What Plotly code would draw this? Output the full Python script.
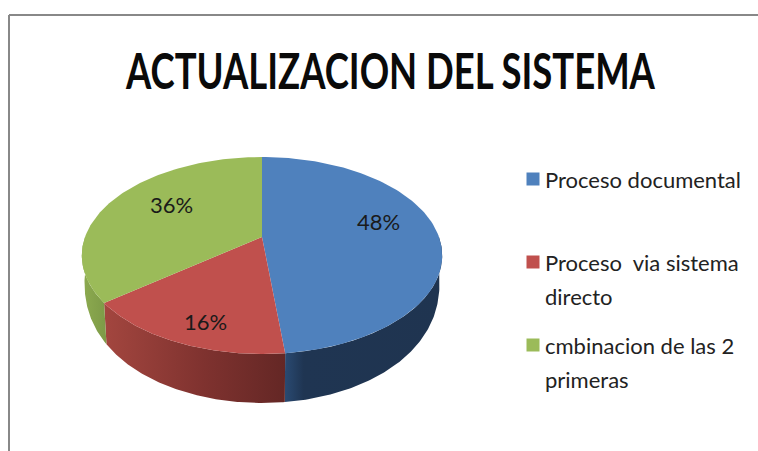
import numpy as np
import plotly.graph_objects as go

title = "ACTUALIZACION DEL SISTEMA"
categories = ["Proceso documental", "Proceso\u00a0 via sistema<br>directo", "cmbinacion de las 2<br>primeras"]
values = [48.4, 16.2, 35.6]
top_colors = ["#4f81bd", "#c0504d", "#9bbb59"]
wall_colors = [
    [[0, "#2a4a72"], [0.12, "#1f3552"], [1, "#1f3450"]],
    [[0, "#a3463f"], [0.55, "#7f322f"], [1, "#642725"]],
    [[0, "#8dab50"], [1, "#7d9a47"]],
]

# canvas is laid out in page pixels, disc drawn in a small perspective
CX, CY = 262, 237
A, B, K = 177, 95, 0.188
DEPTH = 49
label_pos = [(378, 221), (205, 321), (171, 204)]
legend_x = 533
legend_y = [179, 262, 345]
line_gap = 34.5
TITLE_WIDTH = 530


def project(theta, depth=0.0, shrink=1.0):
    u, v = np.sin(theta), np.cos(theta)
    d = 1 + K * v
    # wall height fades towards the sides of the disc
    drop = depth * np.clip(-v, 0, 1) ** 0.35
    return CX + shrink * A * u / d, CY - B * v / d + drop


fig = go.Figure()

edges = np.cumsum([0] + values) / sum(values) * 2 * np.pi
spans = [(edges[i], edges[i + 1]) for i in range(len(values))]

# side walls first, the top face covers whatever is at the back
for (a0, a1), scale in zip(spans, wall_colors):
    # only the front half of the rim shows
    a0v, a1v = max(a0, np.pi * 0.5), min(a1, np.pi * 1.5)
    t = np.linspace(a0v, a1v, 120)
    x1, y1 = project(t)
    x2, y2 = project(t[::-1], DEPTH, 0.985)
    xs = np.concatenate([x1, x2, x1[:1]])
    ys = np.concatenate([y1, y2, y1[:1]])
    fig.add_trace(go.Scatter(
        x=xs, y=ys, mode="lines", line=dict(width=0), fill="toself",
        fillgradient=dict(type="horizontal", colorscale=scale,
                          start=float(xs.min()), stop=float(xs.max())),
        hoverinfo="skip", showlegend=False,
    ))

for (a0, a1), color, name in zip(spans, top_colors, categories):
    t = np.linspace(a0, a1, 120)
    x, y = project(t)
    fig.add_trace(go.Scatter(
        x=np.concatenate([[CX], x, [CX]]), y=np.concatenate([[CY], y, [CY]]),
        mode="lines", line=dict(width=0), fill="toself", fillcolor=color,
        name=name.replace("<br>", " "), showlegend=False,
    ))

annotations = [dict(
    x=390, y=70, xref="x", yref="y", text=title, showarrow=False,
    font=dict(family="Lato", size=50, weight=700, color="#0a0a0a"),
)]

for val, (lx, ly) in zip(values, label_pos):
    annotations.append(dict(
        x=lx, y=ly, xref="x", yref="y", text=f"{round(val)}%", showarrow=False,
        font=dict(family="Lato", size=22, color="#1a1a1a"),
    ))

# legend: swatch plus text, spaced like the original
for name, color, ly in zip(categories, top_colors, legend_y):
    fig.add_trace(go.Scatter(
        x=[legend_x], y=[ly], mode="markers", hoverinfo="skip", showlegend=False,
        marker=dict(symbol="square", size=13, color=color),
    ))
    for i, line in enumerate(name.split("<br>")):
        annotations.append(dict(
            x=543, y=ly + i * line_gap, xref="x", yref="y", xanchor="left",
            text=line, showarrow=False,
            font=dict(family="Lato", size=22, color="#222222"),
        ))

frame = dict(type="line", xref="x", yref="y", line=dict(color="#888888", width=2))

fig.update_layout(
    width=758, height=451,
    margin=dict(l=0, r=0, t=0, b=0),
    paper_bgcolor="white", plot_bgcolor="white",
    xaxis=dict(range=[0, 758], visible=False, fixedrange=True),
    yaxis=dict(range=[451, 0], visible=False, fixedrange=True),
    showlegend=False,
    annotations=annotations,
    shapes=[
        dict(frame, x0=9, x1=758, y0=15, y1=15),
        dict(frame, x0=9, x1=9, y0=15, y1=451),
    ],
)

# the original title is a squeezed Calibri, no installed font is that narrow
post = """
document.body.style.margin = '0';
var t = document.querySelector('.annotation-text');
var b = t.getBBox();
var cx = b.x + b.width / 2;
t.setAttribute('transform', 'translate(' + cx + ' 0) scale(' + (%d / b.width) + ' 1) translate(' + (-cx) + ' 0)');
""" % TITLE_WIDTH

fig.write_html("out.html", config=dict(displayModeBar=False), post_script=post)
